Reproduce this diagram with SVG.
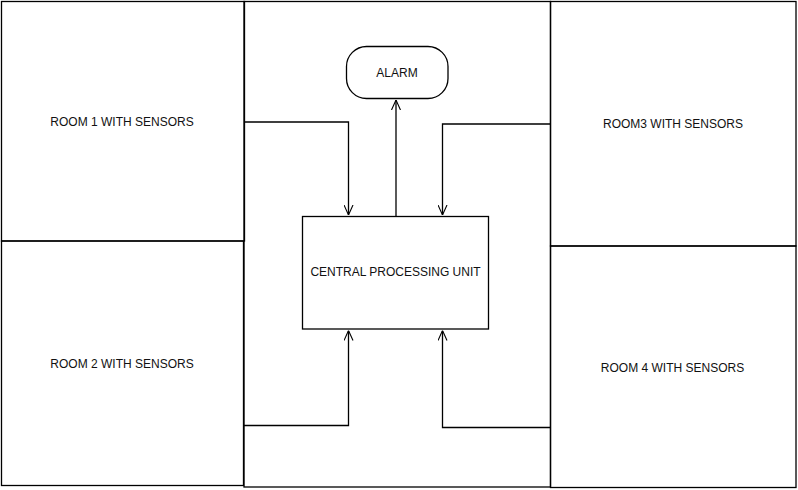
<svg xmlns="http://www.w3.org/2000/svg" width="798" height="490" viewBox="0 0 798 490">
<defs>
<style>
.box{fill:none;stroke:#000;stroke-width:1.3}
.lbl{font-family:"Liberation Sans",Arial,sans-serif;font-size:12px;fill:#111;text-anchor:middle}
.conn{fill:none;stroke:#000;stroke-width:1.3}
</style>
<marker id="arr" viewBox="0 0 10 10" refX="10" refY="5" markerWidth="10" markerHeight="10" markerUnits="userSpaceOnUse" orient="auto">
<path d="M0,0.5 L10,5 L0,9.5" fill="none" stroke="#000" stroke-width="1.1"/>
</marker>
</defs>
<rect width="798" height="490" fill="#fff"/>
<g id="frame"><rect class="box" x="244" y="1.5" width="306.5" height="485.5"/></g>
<g id="room1"><rect class="box" x="1.5" y="1.5" width="243" height="239.5"/><text class="lbl" x="122" y="126">ROOM 1 WITH SENSORS</text></g>
<g id="room2"><rect class="box" x="1.5" y="241" width="242" height="244.5"/><text class="lbl" x="122" y="367.5">ROOM 2 WITH SENSORS</text></g>
<g id="room3"><rect class="box" x="550.5" y="1.5" width="245.5" height="244.5"/><text class="lbl" x="673" y="128">ROOM3 WITH SENSORS</text></g>
<g id="room4"><rect class="box" x="550.5" y="246" width="245.5" height="241.5"/><text class="lbl" x="672.5" y="371.5">ROOM 4 WITH SENSORS</text></g>
<g id="cpu"><rect class="box" x="302.5" y="216.5" width="186" height="112.5"/><text class="lbl" x="395.5" y="276">CENTRAL PROCESSING UNIT</text></g>
<g id="alarm"><rect class="box" x="346.5" y="46.5" width="101.5" height="52" rx="20" ry="20"/><text class="lbl" x="397" y="77">ALARM</text></g>
<g id="connectors">
<path class="conn" d="M244,122 H348.5 V215" marker-end="url(#arr)"/>
<path class="conn" d="M550.5,124 H442.5 V215" marker-end="url(#arr)"/>
<path class="conn" d="M244,425.5 H348.5 V330.5" marker-end="url(#arr)"/>
<path class="conn" d="M550.5,427.5 H442.5 V330.5" marker-end="url(#arr)"/>
<path class="conn" d="M396,216.5 V100" marker-end="url(#arr)"/>
</g>
</svg>
